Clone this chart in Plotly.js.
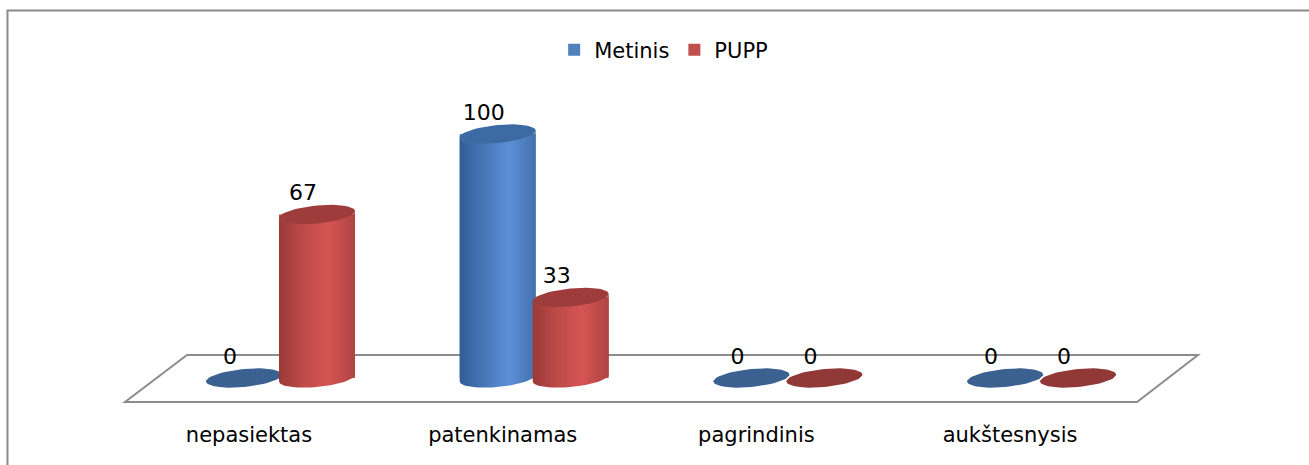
<!DOCTYPE html>
<html>
<head>
<meta charset="utf-8">
<script src="https://cdn.plot.ly/plotly-3.0.1.min.js"></script>
<style>html,body{margin:0;padding:0;background:#fff;}#chart{width:1309px;height:465px;}</style>
</head>
<body>
<div id="chart"></div>
<script>
// ---- data ----
const categories = ['nepasiektas', 'patenkinamas', 'pagrindinis', 'aukštesnysis'];
const seriesNames = ['Metinis', 'PUPP'];
const metinis = [0, 100, 0, 0];
const pupp = [67, 33, 0, 0];

// ---- layout geometry (pixels -> axis units) ----
const W = 1309, H = 465;
const PX_X = 253.7, X0PX = 244;   // px per category, px of first category
const PX_Y = 2.44, Y0PX = 378;    // px per value unit, px of value 0
const toX = px => (px - X0PX) / PX_X;
const toY = px => (Y0PX - px) / PX_Y;
const SERIES_OFF = [0, 73 / PX_X];
const RX = 38 / PX_X, RY = 9 / PX_Y, SHEAR = 3.5 / PX_Y;
const FONT = 'DejaVu Sans, sans-serif';

const styles = [
  { legend: '#4f81bd', cap: '#3e6aa4', flat: '#3b6191',
    grad: [[0, '#325d96'], [0.3, '#4575b5'], [0.65, '#5b90d8'], [1, '#4470ac']] },
  { legend: '#c0504d', cap: '#9d3c3a', flat: '#913937',
    grad: [[0, '#9b3937'], [0.3, '#bb4a47'], [0.65, '#d65553'], [1, '#ad4442']] }
];

function ell(cx, cy, t0, t1, n) {
  const xs = [], ys = [];
  for (let k = 0; k <= n; k++) {
    const t = t0 + (t1 - t0) * k / n;
    xs.push(cx + RX * Math.cos(t));
    ys.push(cy + RY * Math.sin(t) + SHEAR * Math.cos(t));
  }
  return [xs, ys];
}

const traces = [];
// legend + flat base bars
[metinis, pupp].forEach((vals, s) => {
  traces.push({
    type: 'bar', name: seriesNames[s],
    x: categories.map((c, i) => i + SERIES_OFF[s]), y: vals,
    width: 2 * RX, marker: { color: styles[s].legend, line: { width: 0 } },
    hoverinfo: 'skip', showlegend: true
  });
});

// cylinders, drawn category by category (first series behind second)
const labelX = [], labelY = [], labelT = [];
categories.forEach((c, i) => {
  [metinis, pupp].forEach((vals, s) => {
    const v = vals[i];
    const cx = i + SERIES_OFF[s];
    const st = styles[s];
    if (v > 0) {
      const b = ell(cx, 0, Math.PI, 2 * Math.PI, 40);
      const t = ell(cx, v, 2 * Math.PI, Math.PI, 40);
      traces.push({
        type: 'scatter', mode: 'lines', x: b[0].concat(t[0]), y: b[1].concat(t[1]),
        fill: 'toself', fillgradient: { type: 'horizontal', colorscale: st.grad },
        line: { width: 0 }, showlegend: false, hoverinfo: 'skip'
      });
      const cap = ell(cx, v, 0, 2 * Math.PI, 60);
      traces.push({
        type: 'scatter', mode: 'lines', x: cap[0], y: cap[1], fill: 'toself',
        fillcolor: st.cap, line: { width: 0 }, showlegend: false, hoverinfo: 'skip'
      });
    } else {
      const e = ell(cx, 0, 0, 2 * Math.PI, 60);
      traces.push({
        type: 'scatter', mode: 'lines', x: e[0], y: e[1], fill: 'toself',
        fillcolor: st.flat, line: { width: 0 }, showlegend: false, hoverinfo: 'skip'
      });
    }
    labelX.push(cx - 14 / PX_X);
    labelY.push(v + 20 / PX_Y);
    labelT.push(String(v));
  });
});

// value labels
traces.push({
  type: 'scatter', mode: 'text', x: labelX, y: labelY, text: labelT,
  textposition: 'middle center', textfont: { family: FONT, size: 22, color: '#000' },
  showlegend: false, hoverinfo: 'skip', cliponaxis: false
});
// category labels
traces.push({
  type: 'scatter', mode: 'text', x: categories.map((c, i) => i + 5 / PX_X),
  y: categories.map(() => toY(437)), text: categories,
  textposition: 'middle center', textfont: { family: FONT, size: 21, color: '#000' },
  showlegend: false, hoverinfo: 'skip', cliponaxis: false
});

const floorPath = 'M' + toX(125) + ',' + toY(402) + ' L' + toX(1137) + ',' + toY(402) +
  ' L' + toX(1198) + ',' + toY(355) + ' L' + toX(187) + ',' + toY(355) + ' Z';

const layout = {
  width: W, height: H,
  margin: { l: 0, r: 0, t: 0, b: 0 },
  paper_bgcolor: '#fff', plot_bgcolor: 'rgba(0,0,0,0)',
  barmode: 'overlay', hovermode: false,
  xaxis: { range: [toX(0), toX(W)], visible: false, fixedrange: true },
  yaxis: { range: [toY(H), toY(0)], visible: false, fixedrange: true },
  showlegend: true,
  legend: {
    orientation: 'h', x: 0.507, xanchor: 'center', y: 1 - 50 / H, yanchor: 'middle',
    font: { family: FONT, size: 21, color: '#000' }, bgcolor: 'rgba(0,0,0,0)',
    itemwidth: 30, traceorder: 'normal'
  },
  shapes: [
    { type: 'path', xref: 'x', yref: 'y', path: floorPath, layer: 'below',
      line: { color: '#8c8c8c', width: 2 }, fillcolor: 'rgba(0,0,0,0)' },
    { type: 'rect', xref: 'paper', yref: 'paper', x0: 7.5 / W, y0: -0.05, x1: 1.05, y1: 1 - 10.5 / H,
      line: { color: '#8a8a8a', width: 2 }, fillcolor: 'rgba(0,0,0,0)', layer: 'above' }
  ]
};

Plotly.newPlot('chart', traces, layout, { staticPlot: true, displayModeBar: false });
</script>
</body>
</html>
